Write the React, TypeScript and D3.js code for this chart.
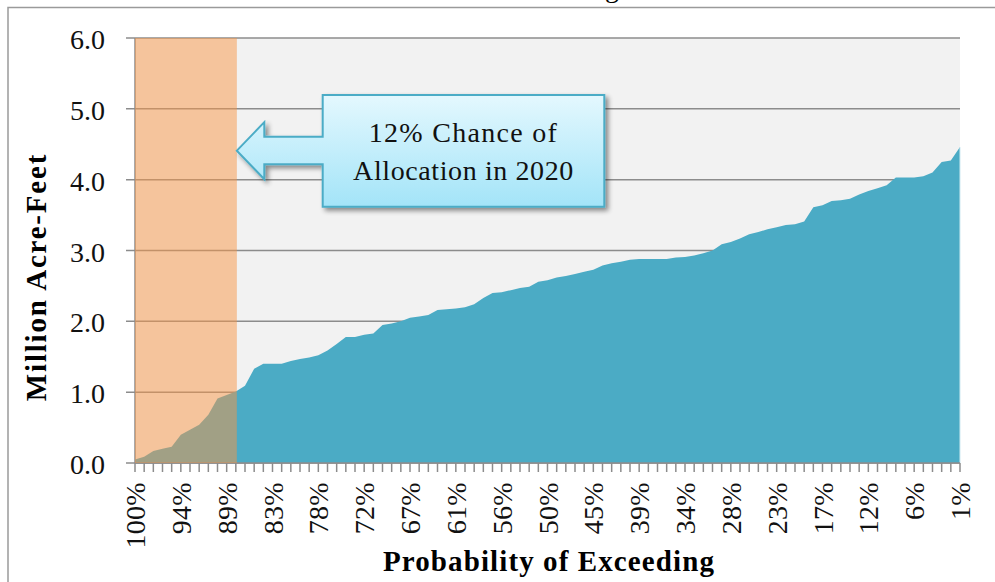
import React from 'react';
import * as d3 from 'd3';

// Volume (million acre-feet) for each year in the trace, sorted by probability of exceeding
const volumes = [
  0.05, 0.09, 0.17, 0.20, 0.23, 0.40, 0.47, 0.54, 0.68, 0.91,
  0.96, 1.01, 1.09, 1.33, 1.40, 1.40, 1.40, 1.44, 1.47, 1.49,
  1.52, 1.59, 1.68, 1.78, 1.78, 1.81, 1.83, 1.95, 1.97, 2.00,
  2.05, 2.07, 2.09, 2.16, 2.17, 2.18, 2.20, 2.24, 2.33, 2.40,
  2.41, 2.44, 2.47, 2.49, 2.56, 2.58, 2.62, 2.64, 2.67, 2.70,
  2.73, 2.79, 2.82, 2.84, 2.87, 2.88, 2.88, 2.88, 2.88, 2.90,
  2.91, 2.93, 2.96, 3.00, 3.09, 3.12, 3.17, 3.23, 3.26, 3.30,
  3.33, 3.36, 3.37, 3.41, 3.61, 3.64, 3.70, 3.71, 3.73, 3.79,
  3.84, 3.88, 3.92, 4.03, 4.03, 4.03, 4.05, 4.10, 4.25, 4.27,
  4.46,
];

// category labels shown on every 5th tick
const tickLabels = [
  '100%', '94%', '89%', '83%', '78%', '72%', '67%', '61%', '56%', '50%',
  '45%', '39%', '34%', '28%', '23%', '17%', '12%', '6%', '1%',
];
const labelEvery = 5;

const yTicks = [0, 1, 2, 3, 4, 5, 6];

// shaded "allocation" band: first 12 categories, full height
const bandRange = [0, 11];
const bandTop = 6.0;

const calloutLines = ['12% Chance of', 'Allocation in 2020'];

const W = 995;
const H = 582;
const margin = { left: 135, right: 35, top: 38, bottom: 119 };
const FONT = '"Liberation Serif", "Times New Roman", serif';

export default function App() {
  const x = d3.scaleLinear()
    .domain([0, volumes.length - 1])
    .range([margin.left, W - margin.right]);
  const y = d3.scaleLinear()
    .domain([0, 6])
    .range([H - margin.bottom, margin.top]);

  const area = d3.area<number>()
    .x((_, i) => x(i))
    .y0(y(0))
    .y1(d => y(d));

  const x0 = x.range()[0];
  const x1 = x.range()[1];
  const yb = y(0);

  // callout geometry
  const bx0 = 322.7, bx1 = 604.3, by0 = 95, by1 = 206.7;
  const tipX = x(bandRange[1]) + 1;
  const midY = (by0 + by1) / 2 - 0.2;
  const headX = 264.3;
  const callout = [
    [bx0, by0], [bx1, by0], [bx1, by1], [bx0, by1],
    [bx0, midY + 13.5], [headX, midY + 13.5], [headX, midY + 28.5],
    [tipX, midY], [headX, midY - 28.5], [headX, midY - 14], [bx0, midY - 14],
  ];

  return (
    <svg width={W} height={H} style={{ position: 'absolute', left: 0, top: 0 }}
      fontFamily={FONT}>
      <defs>
        <linearGradient id="cg" x1="0" y1="0" x2="0" y2="1">
          <stop offset="0" stopColor="#E4F8FE" />
          <stop offset="1" stopColor="#A3E4F8" />
        </linearGradient>
        <filter id="sh" x="-10%" y="-10%" width="130%" height="140%">
          <feGaussianBlur in="SourceAlpha" stdDeviation="2.5" />
          <feOffset dx="3" dy="3" result="b" />
          <feComponentTransfer><feFuncA type="linear" slope="0.45" /></feComponentTransfer>
          <feMerge><feMergeNode /><feMergeNode in="SourceGraphic" /></feMerge>
        </filter>
      </defs>
      <rect width={W} height={H} fill="#fff" />

      {/* chart frame */}
      <path d={`M8,${H} V7.5 H${W}`} fill="none" stroke="#9a9a9a" strokeWidth={1.5} />
      {/* title, cut off at the top of the picture */}
      <text x={612} y={-3} fontSize={28} textAnchor="middle">g</text>

      {/* plot area */}
      <rect x={x0} y={y(6)} width={x1 - x0} height={yb - y(6)} fill="#F2F2F2" />
      {yTicks.map(t => (
        <g key={t}>
          <line x1={x0 - 9} x2={x1} y1={y(t)} y2={y(t)} stroke="#8c8c8c" strokeWidth={1.5} />
          <text x={105} y={y(t) + 11} fontSize={28} textAnchor="end" fill="#111">
            {t.toFixed(1)}
          </text>
        </g>
      ))}

      <path d={area(volumes) || ''} fill="#4BABC5" />
      <line x1={x1} x2={x1} y1={y(volumes[volumes.length - 1])} y2={yb} stroke="#CFEAF1" strokeWidth={1} />

      {/* axes */}
      <line x1={x0} x2={x0} y1={y(6)} y2={yb} stroke="#8c8c8c" strokeWidth={1.5} />
      <line x1={x0} x2={x1} y1={yb} y2={yb} stroke="#8c8c8c" strokeWidth={1.5} />
      {volumes.map((_, i) => (
        <line key={i} x1={x(i)} x2={x(i)} y1={yb} y2={yb + 9} stroke="#8c8c8c" strokeWidth={1.5} />
      ))}
      {tickLabels.map((lab, k) => {
        const tx = x(k * labelEvery) + 10;
        const ty = 482;
        return (
          <text key={lab} x={tx} y={ty} fontSize={28} textAnchor="end"
            transform={`rotate(-90 ${tx} ${ty})`} fill="#111" letterSpacing={0.3}>
            {lab}
          </text>
        );
      })}

      {/* allocation band */}
      <rect x={x(bandRange[0])} y={y(bandTop)} width={x(bandRange[1]) - x(bandRange[0]) + 1}
        height={yb - y(bandTop)} fill="#F79646" fillOpacity={0.5} />

      {/* axis titles */}
      <text x={549} y={571} fontSize={29} fontWeight="bold" textAnchor="middle" letterSpacing={1.1}>
        Probability of Exceeding
      </text>
      <text x={0} y={0} fontSize={29} fontWeight="bold" textAnchor="middle" letterSpacing={1.8}
        transform="translate(46,277) rotate(-90)">
        Million Acre-Feet
      </text>

      {/* callout */}
      <g filter="url(#sh)">
        <polygon points={callout.map(p => p.join(',')).join(' ')} fill="url(#cg)"
          stroke="#4BACC6" strokeWidth={2} strokeLinejoin="miter" />
      </g>
      {calloutLines.map((l, i) => (
        <text key={l} x={(bx0 + bx1) / 2} y={141.7 + i * 38.5} fontSize={28}
          textAnchor="middle" letterSpacing={i === 0 ? 1.3 : 0.6} fill="#111">
          {l}
        </text>
      ))}
    </svg>
  );
}
